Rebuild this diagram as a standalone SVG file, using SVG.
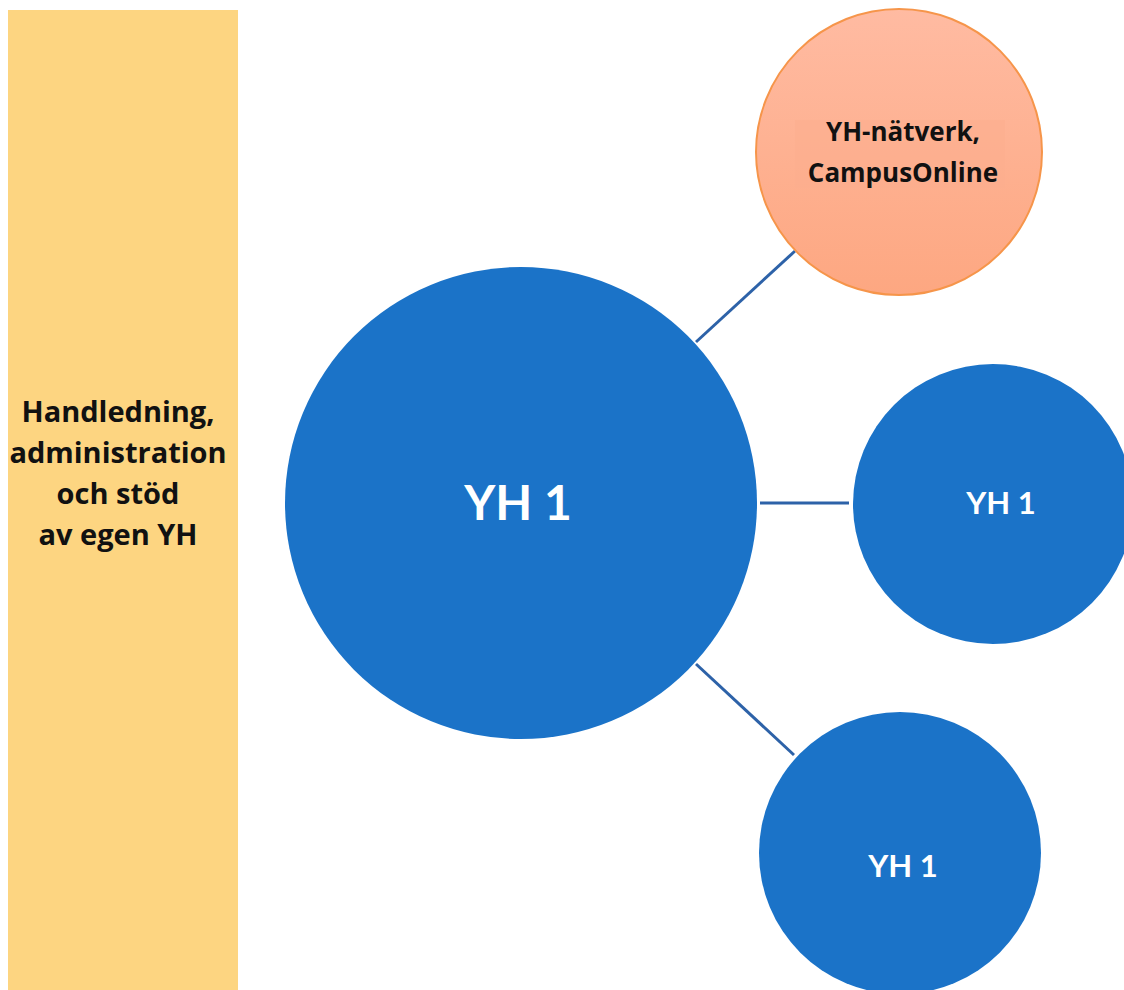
<svg xmlns="http://www.w3.org/2000/svg" width="1124" height="990" viewBox="0 0 1124 990">
<defs>
<linearGradient id="og" x1="0" y1="0" x2="0" y2="1">
<stop offset="0" stop-color="#FFBBA2"/>
<stop offset="1" stop-color="#FDA781"/>
</linearGradient>
<style>
.blue{fill:#1B73C8}
.lbl{font-family:Lato,"Open Sans",sans-serif;font-weight:bold;text-anchor:middle}
.os{font-family:"Open Sans",Lato,sans-serif;font-weight:bold;text-anchor:middle}
.w{fill:#fff}
.k{fill:#111}
.conn line{stroke:#2D62A8;stroke-width:3}
</style>
</defs>
<rect width="1124" height="990" fill="#fff"/>
<g id="bar">
<rect x="8" y="10" width="230" height="980" fill="#FDD581"/>
<text class="os k" font-size="29" x="118" y="422">Handledning,</text>
<text class="os k" font-size="29" x="118" y="463">administration</text>
<text class="os k" font-size="29" x="118" y="504">och stöd</text>
<text class="os k" font-size="29" x="118" y="545">av egen YH</text>
</g>
<g class="conn" id="connectors">
<line x1="696" y1="342" x2="795" y2="251"/>
<line x1="760" y1="503" x2="849" y2="503"/>
<line x1="696" y1="664" x2="794" y2="755"/>
</g>
<g id="main">
<circle class="blue" cx="521" cy="503" r="236"/>
<text class="lbl w" font-size="48" x="518" y="520">YH 1</text>
</g>
<g id="network">
<circle cx="899" cy="152" r="143" fill="url(#og)" stroke="#F6954A" stroke-width="2"/>
<rect x="795" y="120" width="210" height="68" fill="#FCAE8E" opacity="0.5"/>
<text class="os k" font-size="26" x="903" y="141">YH-nätverk,</text>
<text class="os k" font-size="26" x="903" y="182">CampusOnline</text>
</g>
<g id="right">
<circle class="blue" cx="993" cy="504" r="140"/>
<text class="lbl w" font-size="31" x="1001" y="514">YH 1</text>
</g>
<g id="bottom">
<circle class="blue" cx="900" cy="853" r="141"/>
<text class="lbl w" font-size="31" x="903" y="877">YH 1</text>
</g>
</svg>
